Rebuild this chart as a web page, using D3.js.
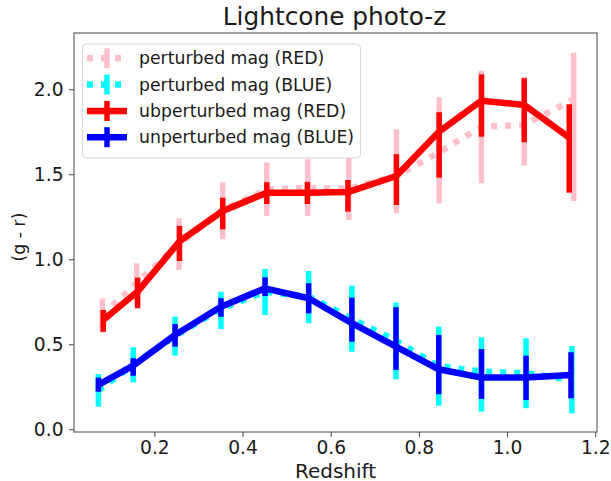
<!DOCTYPE html>
<html><head><meta charset="utf-8">
<script src="https://cdn.jsdelivr.net/npm/d3@7"></script>
<style>
body{margin:0;background:#fff;}
text{font-family:"DejaVu Sans",sans-serif;}
</style></head>
<body><svg id="c" width="611" height="481"></svg>
<script>
// ---- data ----
const redshiftRedP = [0.082,0.160,0.256,0.355,0.455,0.548,0.641,0.749,0.846,0.942,1.039,1.151];
const colorRedP   = [0.67,0.86,1.09,1.29,1.41,1.42,1.415,1.49,1.63,1.78,1.79,1.94];
const loRedP      = [0.568,0.751,0.937,1.118,1.255,1.255,1.231,1.271,1.329,1.447,1.551,1.343];
const hiRedP      = [0.77,0.976,1.241,1.453,1.568,1.588,1.598,1.765,1.953,2.109,2.074,2.215];

const redshiftBlueP = [0.073,0.152,0.247,0.351,0.451,0.55,0.648,0.748,0.845,0.942,1.043,1.147];
const colorBlueP  = [0.23,0.38,0.55,0.71,0.81,0.78,0.65,0.52,0.37,0.34,0.33,0.29];
const loBlueP     = [0.133,0.276,0.433,0.59,0.672,0.624,0.456,0.294,0.139,0.104,0.124,0.094];
const hiBlueP     = [0.325,0.482,0.662,0.809,0.943,0.931,0.845,0.745,0.604,0.541,0.535,0.49];

const redshiftRedU = [0.084,0.162,0.257,0.355,0.455,0.547,0.639,0.749,0.846,0.942,1.039,1.141];
const colorRedU   = [0.643,0.81,1.105,1.284,1.392,1.392,1.395,1.49,1.751,1.933,1.908,1.715];
const loRedU      = [0.574,0.712,0.99,1.176,1.325,1.325,1.28,1.319,1.48,1.721,1.688,1.392];
const hiRedU      = [0.702,0.892,1.196,1.362,1.453,1.455,1.466,1.618,1.865,2.088,2.065,1.912];

const redshiftBlueU = [0.073,0.152,0.247,0.351,0.451,0.55,0.648,0.748,0.845,0.942,1.043,1.145];
const colorBlueU  = [0.261,0.374,0.555,0.721,0.829,0.771,0.624,0.486,0.353,0.304,0.304,0.319];
const loBlueU     = [0.221,0.315,0.486,0.662,0.784,0.682,0.515,0.349,0.206,0.178,0.172,0.182];
const hiBlueU     = [0.304,0.418,0.619,0.771,0.894,0.859,0.774,0.718,0.555,0.472,0.433,0.453];

const xTicks = [0.2,0.4,0.6,0.8,1.0,1.2];
const yTicks = [0.0,0.5,1.0,1.5,2.0];
const seriesLabels = ["perturbed mag (RED)","perturbed mag (BLUE)","ubperturbed mag (RED)","unperturbed mag (BLUE)"];
const titleText = "Lightcone photo-z";
const xLabel = "Redshift";
const yLabel = "(g - r)";

// ---- build ----
const series = [
  {x:redshiftRedP, y:colorRedP, lo:loRedP, hi:hiRedP, color:"pink", dotted:true},
  {x:redshiftBlueP, y:colorBlueP, lo:loBlueP, hi:hiBlueP, color:"cyan", dotted:true},
  {x:redshiftRedU, y:colorRedU, lo:loRedU, hi:hiRedU, color:"red", dotted:false},
  {x:redshiftBlueU, y:colorBlueU, lo:loBlueU, hi:hiBlueU, color:"blue", dotted:false}
];
series.forEach((s,i)=>s.label=seriesLabels[i]);

const L=74, R=597, T=33, B=432;
const svg = d3.select("#c");
const x = d3.scaleLinear().domain([0.0177,1.204]).range([L,R]);
const y = d3.scaleLinear().domain([-0.016,2.331]).range([B,T]);

const LW = 6.5, ELW = 5.5;
const clip = svg.append("clipPath").attr("id","clp").append("rect")
  .attr("x",L).attr("y",T).attr("width",R-L).attr("height",B-T);
const g = svg.append("g").attr("clip-path","url(#clp)");

series.forEach(s=>{
  const pts = s.x.map((xv,i)=>({x:xv,y:s.y[i],lo:s.lo[i],hi:s.hi[i]}));
  const sg = g.append("g");
  sg.append("path").datum(pts)
    .attr("d", d3.line().x(d=>x(d.x)).y(d=>y(d.y)))
    .attr("fill","none").attr("stroke",s.color)
    .attr("stroke-width",LW)
    .attr("stroke-linejoin","round")
    .attr("stroke-dasharray", s.dotted ? "6,8" : null);
  sg.selectAll("line.e").data(pts).join("line")
    .attr("x1",d=>x(d.x)).attr("x2",d=>x(d.x))
    .attr("y1",d=>y(d.lo)).attr("y2",d=>y(d.hi))
    .attr("stroke",s.color).attr("stroke-width",ELW);
});

// axes
const axColor="#444";
const xa = svg.append("g").attr("transform",`translate(0,${B})`)
  .call(d3.axisBottom(x).tickValues(xTicks).tickFormat(d3.format(".1f")).tickSizeOuter(0).tickSize(5).tickPadding(4));
const ya = svg.append("g").attr("transform",`translate(${L},0)`)
  .call(d3.axisLeft(y).tickValues(yTicks).tickFormat(d3.format(".1f")).tickSizeOuter(0).tickSize(5).tickPadding(5.5));
[xa,ya].forEach(a=>{
  a.select(".domain").remove();
  a.selectAll(".tick line").attr("stroke",axColor);
  a.selectAll(".tick text").attr("font-size",18.67).attr("fill","#1a1a1a").attr("font-family","DejaVu Sans");
});
svg.append("rect").attr("x",L).attr("y",T).attr("width",R-L).attr("height",B-T)
  .attr("fill","none").attr("stroke",axColor).attr("stroke-width",1);

svg.append("text").attr("x",334.5).attr("y",25).attr("text-anchor","middle")
  .attr("font-size",24.8).attr("fill","#1a1a1a").text(titleText);
svg.append("text").attr("x",335.5).attr("y",477.5).attr("text-anchor","middle")
  .attr("font-size",20).attr("fill","#1a1a1a").text(xLabel);
svg.append("text").attr("transform",`translate(25,237) rotate(-90)`).attr("text-anchor","middle")
  .attr("font-size",17.3).attr("fill","#1a1a1a").text(yLabel);

// legend
const lg = svg.append("g");
lg.append("rect").attr("x",82.5).attr("y",44).attr("width",278).attr("height",114)
  .attr("rx",4).attr("fill","white").attr("fill-opacity",0.8).attr("stroke","#d6d6d6");
series.forEach((s,i)=>{
  const cy = 58.3 + i*26.3;
  const hx0 = 87, hx1 = 127, hm = 107;
  lg.append("line").attr("x1",hx0).attr("x2",hx1).attr("y1",cy).attr("y2",cy)
    .attr("stroke",s.color).attr("stroke-width",LW)
    .attr("stroke-dasharray", s.dotted ? "6,8" : null);
  lg.append("line").attr("x1",hm).attr("x2",hm).attr("y1",cy-10).attr("y2",cy+10)
    .attr("stroke",s.color).attr("stroke-width",ELW);
  lg.append("text").attr("x",139).attr("y",cy).attr("dy","0.35em")
    .attr("font-size",17.3).attr("fill","#1a1a1a").text(s.label);
});
</script></body></html>
